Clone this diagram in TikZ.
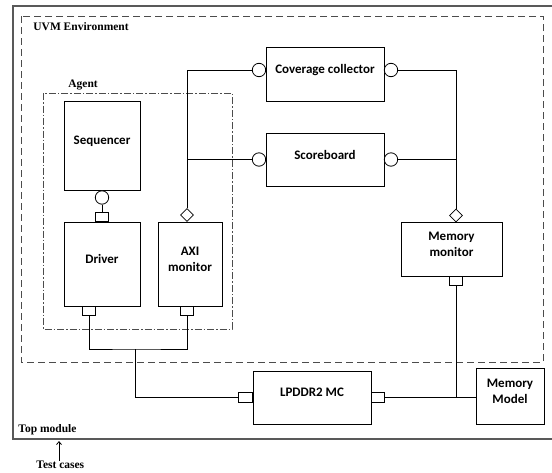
\documentclass[tikz,border=0pt]{standalone}
\usepackage{fontspec}
\setmainfont{Liberation Serif}
\newfontfamily\calib{Carlito}
\usetikzlibrary{shapes.geometric,arrows.meta}
\begin{document}
\begin{tikzpicture}[x=1pt,y=-1pt,line width=0.8pt,
    block/.style={draw,fill=white,inner sep=0pt,align=center,text depth=10pt,
      font=\calib\bfseries\fontsize{13}{16}\selectfont},
    lbl/.style={anchor=west,inner sep=0pt,font=\bfseries\fontsize{11.5}{13}\selectfont},
    sock/.style={draw,fill=white,circle,inner sep=0pt,minimum size=13.4pt},
    plug/.style={draw,fill=white,rectangle,inner sep=0pt,minimum width=13pt,minimum height=9pt},
    tap/.style={draw,fill=white,diamond,inner sep=0pt,minimum width=13pt,minimum height=13pt}]
    \useasboundingbox (0,0) rectangle (552,472);
    \draw [line width=1.2pt,black!65] (552,6) -- (13,6) -- (13,439) -- (552,439);
    \draw [black!70,dash pattern=on 7pt off 4pt] (21,16) rectangle (543,362);
    \draw [black!70,dash pattern=on 7pt off 2pt on 1.5pt off 2pt] (43,93) rectangle (232,329);
    \node [lbl] (uvm) at (33,27) {UVM Environment};
    \node [lbl] (agent) at (68,85) {Agent};
    \node [lbl] (top) at (18,430) {Top module};
    \node [lbl] (tests) at (36,465) {Test cases};
    \node [block,minimum width=76pt,minimum height=89pt] (seq) at (102,145.5) {Sequencer};
    \node [block,minimum width=76pt,minimum height=84pt] (drv) at (102,264) {Driver};
    \node [block,minimum width=64pt,minimum height=84pt] (axi) at (190,264) {AXI\\monitor};
    \node [block,minimum width=118pt,minimum height=54pt] (cov) at (325,74) {Coverage collector};
    \node [block,minimum width=118pt,minimum height=53pt] (sb) at (325,159.5) {Scoreboard};
    \node [block,minimum width=101pt,minimum height=54pt] (mon) at (451.5,249) {Memory\\monitor};
    \node [block,minimum width=118pt,minimum height=53pt] (mc) at (312,397.5) {LPDDR2 MC};
    \node [block,minimum width=68pt,minimum height=56pt] (mem) at (510,396) {Memory\\Model};
    \node [sock,anchor=north] (seqs) at (seq.south) {};
    \node [plug,anchor=south] (drvp) at (drv.north) {};
    \node [tap] (axit) at (187,215) {};
    \node [plug,anchor=north] (drvq) at (89,306) {};
    \node [plug,anchor=north] (axiq) at (187,306) {};
    \node [sock] (covl) at (259,70) {};
    \node [sock] (covr) at (391,70) {};
    \node [sock] (sbl) at (259,159.5) {};
    \node [sock] (sbr) at (391,159.5) {};
    \node [tap] (mont) at (456,215.5) {};
    \node [plug,anchor=north] (monq) at (456,276) {};
    \node [plug,anchor=east,minimum width=14pt,minimum height=10pt] (mcl) at (mc.west) {};
    \node [plug,anchor=west,minimum height=10pt] (mcr) at (mc.east) {};
    \coordinate (bus) at (135,349);
    \coordinate (tin) at (59,441);
    \draw (seqs) -- (drvp);
    \draw (axit.north) |- (covl.west);
    \draw (sbl.west) -- (sbl.west -| axit.north);
    \draw (covr.east) -| (mont.north);
    \draw (sbr.east) -- (sbr.east -| mont.north);
    \draw (drvq.south) |- (bus) -| (axiq.south);
    \draw (bus) |- (mcl.west);
    \draw (mcr.east) -- (mcr.east -| mem.west);
    \draw (monq.south) -- (monq.south |- mcr.east);
    \draw [-{Straight Barb[length=3pt,width=5pt]}] (tests.north -| tin) -- (tin);
\end{tikzpicture}
\end{document}
